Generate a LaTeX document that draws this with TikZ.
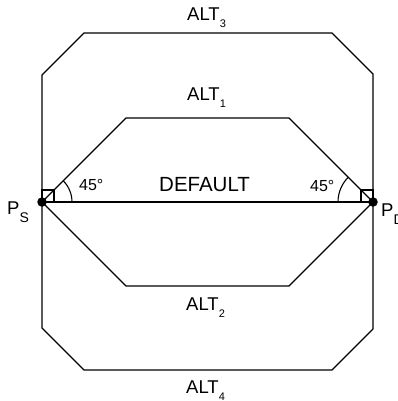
\documentclass[tikz,border=0pt]{standalone}
\usepackage{fontspec}
\setmainfont{Liberation Sans}
\newcommand{\lowsub}[2][7pt]{\raisebox{-#1}{\fontsize{11}{12}\selectfont #2}}
\begin{document}
\begin{tikzpicture}[
  x=1pt, y=-1pt,
  route/.style={draw=black, line width=1.2pt, line join=miter},
  endpt/.style={circle, fill=black, inner sep=0pt, minimum size=9.5pt},
  altlbl/.style={font=\fontsize{18.5}{20}\selectfont, anchor=base west, inner sep=0pt},
  anglbl/.style={font=\fontsize{16}{18}\selectfont, anchor=base west, inner sep=0pt},
  anglemark/.style={draw=black, line width=1.1pt},
]
\useasboundingbox (0,0) rectangle (398,401);

%% ── End points ───────────────────────────────────────────────────────────────
\node[endpt] (Ps) at (42, 202) {};
\node[endpt] (Pd) at (373, 202) {};

%% ── Routes ───────────────────────────────────────────────────────────────────
%% DEFAULT (straight)
\draw[route] (Ps.center) -- (Pd.center);

%% ALT1 (upper) and ALT2 (lower)
\draw[route] (Ps.center) -- (126, 118) -- (289, 118) -- (Pd.center);
\draw[route] (Ps.center) -- (126, 286) -- (289, 286) -- (Pd.center);

%% ALT3 (outer upper) and ALT4 (outer lower)
\draw[route] (Ps.center) -- (42, 75) -- (84, 33) -- (332, 33) -- (373, 74) -- (Pd.center);
\draw[route] (Ps.center) -- (42, 328) -- (84, 370) -- (332, 370) -- (373, 329) -- (Pd.center);

%% ── Angle marks ──────────────────────────────────────────────────────────────
\draw[anglemark] (Ps.center) ++(30, 0) arc[start angle=0, end angle=-45, radius=30];
\draw[anglemark] (Ps.center) rectangle ++(12, -12);
\draw[anglemark] (Pd.center) ++(-35, 0) arc[start angle=180, end angle=225, radius=35];
\draw[anglemark] (Pd.center) rectangle ++(-12, -12);

%% ── Labels ───────────────────────────────────────────────────────────────────
\node[altlbl] (alt3) at (187, 21) {ALT\lowsub{3}};
\node[altlbl] (alt1) at (187, 100) {ALT\lowsub{1}};
\node[altlbl] (alt2) at (186, 310) {ALT\lowsub{2}};
\node[altlbl] (alt4) at (186, 393) {ALT\lowsub{4}};
\node[altlbl, font=\fontsize{20.5}{22}\selectfont] (dflt) at (159, 191) {DEFAULT};

\node[anglbl] (angS) at (79, 190) {45°};
\node[anglbl] (angD) at (310, 191) {45°};

\node[altlbl] (lblS) at (7, 214) {P\lowsub[8pt]{\fontsize{14}{14}\selectfont S}};
\node[altlbl] (lblD) at (381, 216) {P\lowsub[8pt]{\fontsize{14}{14}\selectfont D}};

\end{tikzpicture}
\end{document}
